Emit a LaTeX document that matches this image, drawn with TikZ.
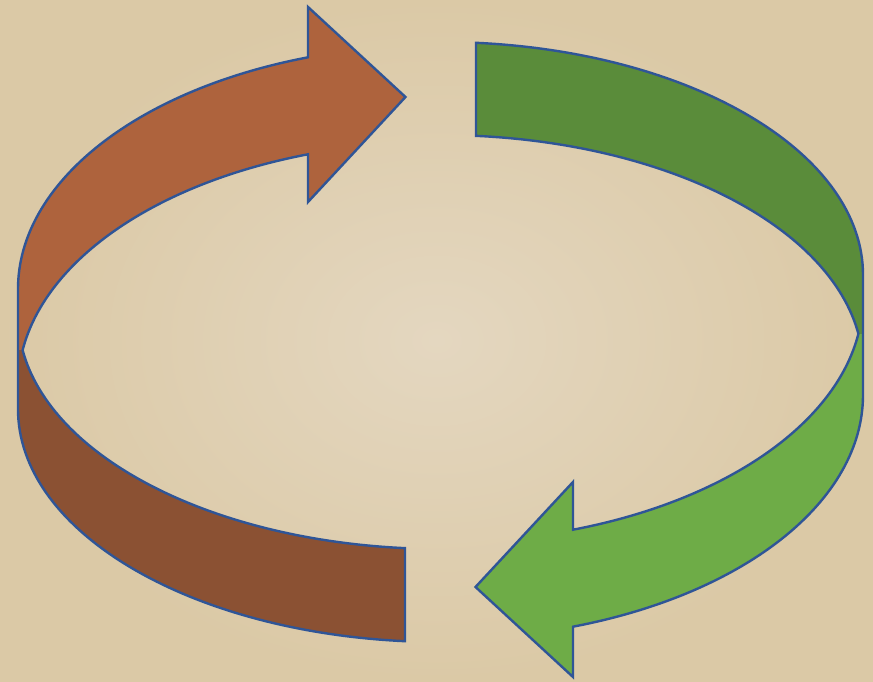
\documentclass[tikz,border=0pt]{standalone}
\usepackage{tikz}
\usepackage{xcolor}
\definecolor{paperlight}{RGB}{228,215,192}
\definecolor{paperdark}{RGB}{219,201,166}
\definecolor{cyclebrown}{RGB}{174,99,61}
\definecolor{cyclebrowndark}{RGB}{139,81,51}
\definecolor{cyclegreen}{RGB}{110,172,71}
\definecolor{cyclegreendark}{RGB}{90,140,58}
\definecolor{edgeblue}{RGB}{47,85,151}

% one half of the ring: light upper band with arrow head, dark lower band
\newcommand{\ringhalf}[2]{%
  % light upper band
  \fill[#1] (308,623.7) arc[start angle=108.28, end angle=180, x radius=422.5, y radius=244]
     -- (18,330.8) -- (22.6,330.8)
     arc[start angle=171.56, end angle=108.28, x radius=422.5, y radius=244]
     -- (308,479) -- (405.5,584) -- (308,674) -- cycle;
  % dark lower band
  \fill[#2] (18,330.8) -- (18,272)
     arc[start angle=180, end angle=265.18, x radius=422.5, y radius=233]
     -- (405,132.8)
     arc[start angle=265.18, end angle=188.44, x radius=422.5, y radius=233]
     -- cycle;
  % outline
  \draw[ringedge] (308,623.7) -- (308,674) -- (405.5,584) -- (308,479) -- (308,526.7)
     arc[start angle=108.28, end angle=171.56, x radius=422.5, y radius=244]
     arc[start angle=188.44, end angle=265.18, x radius=422.5, y radius=233]
     -- (405,39.8)
     arc[start angle=265.18, end angle=180, x radius=422.5, y radius=233]
     -- (18,392)
     arc[start angle=180, end angle=108.28, x radius=422.5, y radius=244]
     -- cycle;
}

\begin{document}
\begin{tikzpicture}[x=1pt, y=1pt,
    ringedge/.style={draw=edgeblue, line width=2.4pt, line join=miter}]
  % parchment background
  \fill[inner color=paperlight, outer color=paperdark] (0,0) rectangle (873,681);
  \useasboundingbox (0,0) rectangle (873,681);

  % brown arrow (left)
  \ringhalf{cyclebrown}{cyclebrowndark}

  % green arrow (right), same shape turned round
  \begin{scope}[rotate around={180:(440.5,339)}]
    \ringhalf{cyclegreen}{cyclegreendark}
  \end{scope}
\end{tikzpicture}
\end{document}
